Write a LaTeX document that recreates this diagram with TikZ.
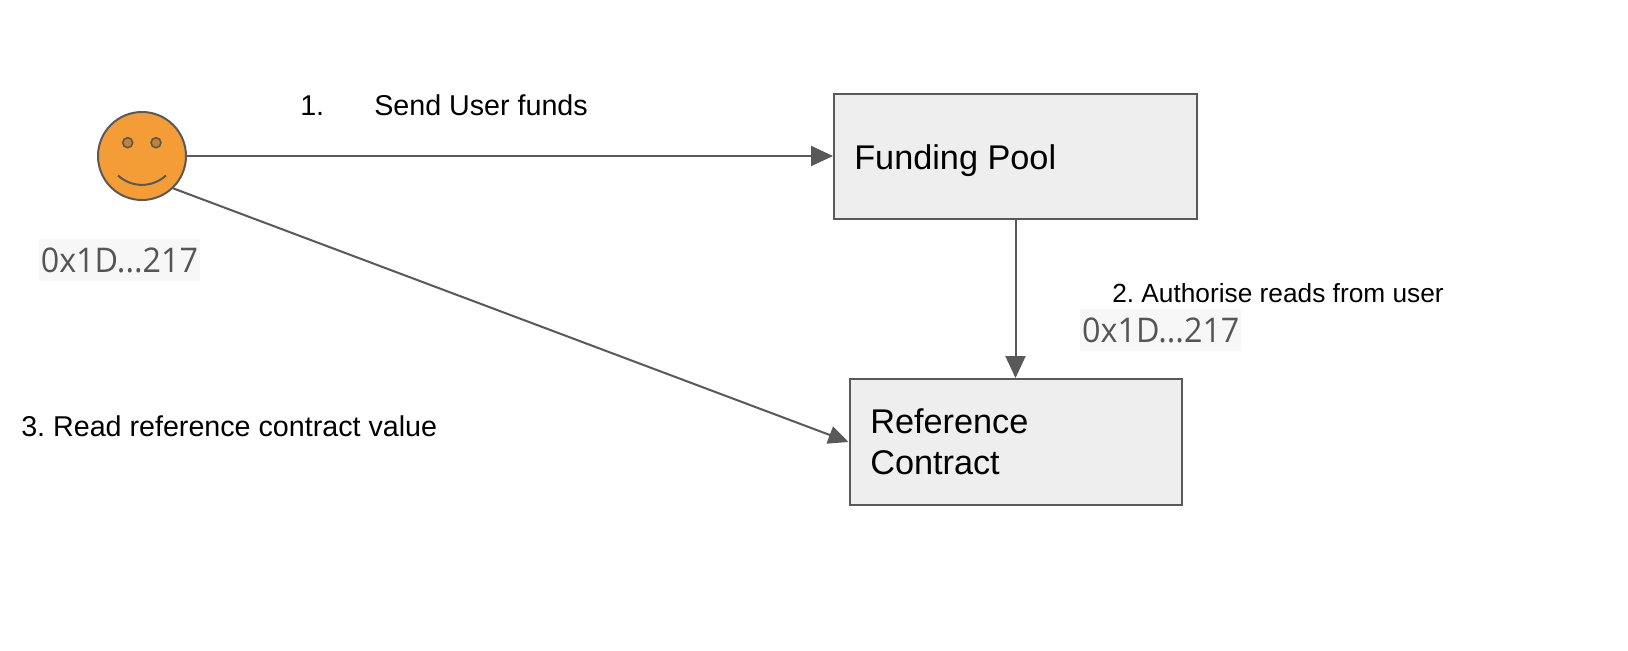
\documentclass[tikz,border=0pt]{standalone}
\usepackage{fontspec}
\setmainfont{Liberation Sans}
\newfontfamily\addrfont[FakeStretch=0.95]{Open Sans}
\usetikzlibrary{arrows.meta}
\definecolor{linegrey}{HTML}{595959}
\definecolor{boxfill}{HTML}{EEEEEE}
\definecolor{face}{HTML}{F49D37}
\definecolor{eye}{HTML}{C38131}
\definecolor{addrbg}{HTML}{F7F7F7}
\definecolor{addrtext}{HTML}{555555}
\tikzset{
  boxnode/.style={draw=linegrey,line width=1.5pt,fill=boxfill,inner sep=0pt,anchor=north west},
  conn/.style={draw=linegrey,line width=1.5pt,-{Triangle[length=16.5pt,width=15pt]}},
  conntwo/.style={draw=linegrey,line width=1.5pt,-{Triangle[length=15pt,width=13.5pt]}},
  label/.style={inner sep=0pt,anchor=base west,font=\frenchspacing\fontsize{21.5}{24}\selectfont,text=black},
  smalllabel/.style={inner sep=0pt,anchor=base west,font=\frenchspacing\fontsize{19.7}{24}\selectfont,text=black},
  boxtext/.style={inner sep=0pt,anchor=base west,font=\fontsize{25.7}{30}\selectfont,text=black},
  addr/.style={fill=addrbg,inner sep=0pt,anchor=north west,text=addrtext,font=\addrfont\fontsize{25.5}{30}\selectfont,align=left},
}
\begin{document}
\begin{tikzpicture}[x=0.75pt,y=-0.75pt]
\useasboundingbox[fill=white] (0,0) rectangle (1628,650);
\node[boxnode,minimum width=272.25pt,minimum height=93.75pt] (pool) at (833,93) {};
\node[boxnode,minimum width=249pt,minimum height=94.5pt] (ref) at (848.5,378) {};
\node[circle,draw=linegrey,line width=1.5pt,fill=face,minimum size=66pt,inner sep=0pt] (user) at (142,156) {};
\node[circle,draw=linegrey,line width=1.2pt,fill=eye,minimum size=7.5pt,inner sep=0pt] (eyeL) at (127.7,142.7) {};
\node[circle,draw=linegrey,line width=1.2pt,fill=eye,minimum size=7.5pt,inner sep=0pt] (eyeR) at (156,142.7) {};
\draw[linegrey,line width=1.5pt] (118,175.5) .. controls (132,188) and (152,188) .. (166,175.5);
\draw[conn] (user.east) -- (pool.west |- user.east);
\draw[conn] (pool.south) -- (pool.south |- ref.north);
\coordinate (dend) at (848.5,442);
\draw[conntwo] (user.-46) -- (ref.west |- dend);
\node[label] (one) at (300,115) {1.};
\node[label] (send) at (374,115) {Send User funds};
\node[smalllabel] (auth) at (1112,302) {2. Authorise reads from user};
\node[label] (read) at (21,436) {3. Read reference contract value};
\node[boxtext] (ft) at (854,169.5) {Funding Pool};
\node[boxtext] (rt1) at (870,433) {Reference};
\node[boxtext] (rt2) at (870,474) {Contract};
\node[addr,minimum width=120.75pt,minimum height=31.5pt] (addrA) at (38.7,239) {0x1D...217};
\node[addr,minimum width=120.75pt,minimum height=31.5pt] (addrB) at (1080,309) {0x1D...217};
\end{tikzpicture}
\end{document}
